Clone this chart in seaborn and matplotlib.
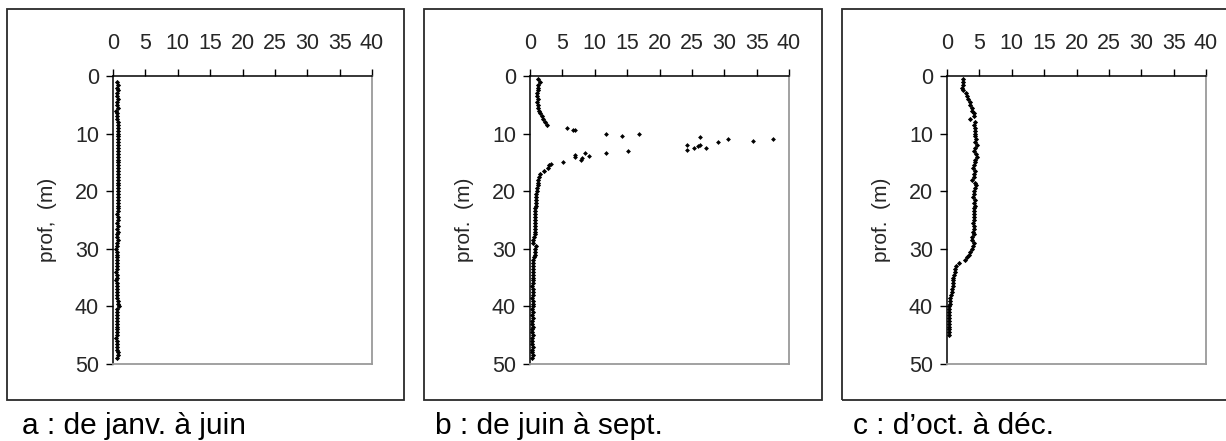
import numpy as np
import pandas as pd
import matplotlib
matplotlib.use("Agg")
import matplotlib.pyplot as plt
import seaborn as sns
from matplotlib.patches import Rectangle

nan = np.nan

# Shared depth grid (m), 0.5 .. 50.0
depth = [
    0.5, 1.0, 1.5, 2.0, 2.5, 3.0, 3.5, 4.0, 4.5, 5.0,
    5.5, 6.0, 6.5, 7.0, 7.5, 8.0, 8.5, 9.0, 9.5, 10.0,
    10.5, 11.0, 11.5, 12.0, 12.5, 13.0, 13.5, 14.0, 14.5, 15.0,
    15.5, 16.0, 16.5, 17.0, 17.5, 18.0, 18.5, 19.0, 19.5, 20.0,
    20.5, 21.0, 21.5, 22.0, 22.5, 23.0, 23.5, 24.0, 24.5, 25.0,
    25.5, 26.0, 26.5, 27.0, 27.5, 28.0, 28.5, 29.0, 29.5, 30.0,
    30.5, 31.0, 31.5, 32.0, 32.5, 33.0, 33.5, 34.0, 34.5, 35.0,
    35.5, 36.0, 36.5, 37.0, 37.5, 38.0, 38.5, 39.0, 39.5, 40.0,
    40.5, 41.0, 41.5, 42.0, 42.5, 43.0, 43.5, 44.0, 44.5, 45.0,
    45.5, 46.0, 46.5, 47.0, 47.5, 48.0, 48.5, 49.0, 49.5, 50.0,
]

# a : de janv. à juin
val_a = [
    nan, 0.6, 0.7, 0.6, 0.7, 0.6, 0.6, 0.7, 0.6, 0.6,
    0.7, 0.5, 0.6, 0.6, 0.6, 0.7, 0.8, 0.7, 0.7, 0.7,
    0.7, 0.7, 0.7, 0.7, 0.8, 0.7, 0.8, 0.8, 0.8, 0.8,
    0.7, 0.8, 0.8, 0.8, 0.8, 0.7, 0.8, 0.8, 0.7, 0.8,
    0.7, 0.7, 0.7, 0.7, 0.7, 0.7, 0.7, 0.6, 0.7, 0.7,
    0.6, 0.7, 0.6, 0.7, 0.6, 0.6, 0.7, 0.6, 0.6, 0.5,
    0.6, 0.6, 0.6, 0.6, 0.6, 0.6, 0.6, 0.5, 0.6, 0.6,
    0.5, 0.6, 0.6, 0.6, 0.6, 0.6, 0.6, 0.7, 0.8, 0.9,
    0.6, 0.6, 0.6, 0.6, 0.6, 0.6, 0.6, 0.6, 0.6, 0.6,
    0.5, 0.6, 0.6, 0.6, 0.6, 0.7, 0.7, 0.6, nan, nan,
]

# b : de juin à sept. (continuous profile)
val_b = [
    1.3, 1.5, 1.3, 1.2, 1.2, 1.1, 1.1, 1.2, 1.1, 1.2,
    1.2, 1.4, 1.6, 1.9, 2.0, 2.3, 2.6, nan, nan, nan,
    nan, nan, nan, nan, nan, nan, nan, nan, nan, nan,
    3.0, 2.8, 2.2, 1.6, 1.4, 1.3, 1.2, 1.3, 1.1, 1.1,
    1.0, 1.0, 1.0, 0.9, 0.9, 0.8, 0.8, 0.8, 0.8, 0.8,
    0.8, 0.8, 0.8, 0.8, 0.8, 0.6, 0.5, 0.5, 0.9, 0.8,
    0.8, 0.7, 0.6, 0.5, 0.5, 0.4, 0.4, 0.4, 0.4, 0.4,
    0.4, 0.4, 0.3, 0.4, 0.4, 0.4, 0.3, 0.4, 0.4, 0.4,
    0.3, 0.4, 0.3, 0.4, 0.3, 0.3, 0.4, 0.3, 0.3, 0.4,
    0.3, 0.3, 0.3, 0.4, 0.3, 0.3, 0.4, 0.3, nan, nan,
]
# b : scattered points of the bloom layer
peak_val = [5.7, 6.7, 7.0, 11.8, 14.2, 16.9, 24.2, 24.2, 25.4, 26.0, 26.3, 26.3,
            27.2, 29.1, 30.6, 34.5, 37.5, 11.8, 15.1, 6.9, 6.9, 8.5, 7.9, 8.1,
            9.1, 5.1, 3.3]
peak_depth = [9.1, 9.4, 9.4, 10.0, 10.35, 10.0, 11.9, 12.85, 12.5, 12.2, 12.0, 10.6,
              12.5, 11.5, 10.9, 11.2, 10.9, 13.4, 13.1, 13.8, 14.1, 13.4, 14.5, 14.2,
              13.9, 14.9, 15.3]

# c : d'oct. à déc.
val_c = [
    2.4, 2.5, 2.4, 2.3, 2.4, 2.9, 3.1, 3.3, 3.5, 3.6,
    3.8, 3.9, 4.1, 4.2, 3.6, 4.3, 4.2, 4.3, 4.4, 4.3,
    4.3, 4.5, 4.4, 4.6, 4.3, 4.2, 4.5, 4.6, 4.4, 4.3,
    4.2, 4.0, 4.3, 4.1, 4.2, 3.8, 4.4, 4.5, 4.3, 4.2,
    4.2, 4.0, 4.3, 4.1, 4.3, 4.2, 4.1, 4.2, 4.1, 4.2,
    4.0, 4.1, 4.1, 4.0, 4.1, 3.9, 3.8, 4.2, 4.0, 3.9,
    3.6, 3.4, 3.1, 2.8, 1.8, 1.4, 1.3, 1.2, 1.1, 1.0,
    0.95, 0.9, 0.85, 0.8, 0.7, 0.6, 0.5, 0.4, 0.4, 0.35,
    0.3, 0.3, 0.3, 0.3, 0.3, 0.3, 0.3, 0.3, 0.3, 0.3,
    nan, nan, nan, nan, nan, nan, nan, nan, nan, nan,
]

captions = ["a : de janv. à juin", "b : de juin à sept.", "c : d\u2019oct. à déc."]
ylabels = ["prof,  (m)", "prof.  (m)", "prof.  (m)"]
xticks = [0, 5, 10, 15, 20, 25, 30, 35, 40]
yticks = [0, 10, 20, 30, 40, 50]

sns.set_theme(style="white")
plt.rcParams["font.family"] = ["Liberation Sans", "DejaVu Sans"]

W, H = 1226, 441
fig = plt.figure(figsize=(W / 100, H / 100), dpi=100)

def fx(px):
    return px / W

def fy(py):
    return 1 - py / H

ax_left = [113, 530, 947]
ax_w = 259
ax_top, ax_bot = 76, 364
frames = [(7, 404), (424, 822), (842, 1240)]
cap_x = [22, 435, 853]

series = [val_a, val_b, val_c]

for i in range(3):
    # frame around each panel
    fl, fr = frames[i]
    fig.patches.append(Rectangle((fx(fl), fy(400)), fx(fr - fl), (400 - 9) / H,
                                 transform=fig.transFigure, fill=False,
                                 edgecolor="#2a2a2a", linewidth=1.3, zorder=0))
    ax = fig.add_axes([fx(ax_left[i]), fy(ax_bot), ax_w / W, (ax_bot - ax_top) / H])
    df = pd.DataFrame({"val": series[i], "depth": depth}).dropna()
    sns.scatterplot(data=df, x="val", y="depth", ax=ax, color="black",
                    marker="D", s=7, linewidth=0, legend=False)
    if i == 1:
        dp = pd.DataFrame({"val": peak_val, "depth": peak_depth})
        sns.scatterplot(data=dp, x="val", y="depth", ax=ax, color="black",
                        marker="D", s=6, linewidth=0, legend=False)
    ax.set_xlim(0, 40)
    ax.set_ylim(50, 0)
    ax.set_xticks(xticks)
    ax.set_yticks(yticks)
    ax.xaxis.tick_top()
    ax.xaxis.set_label_position("top")
    ax.set_xlabel("")
    ax.set_ylabel(ylabels[i], fontsize=15)
    ax.yaxis.set_label_coords(-0.216, 0.5)
    ax.tick_params(axis="x", which="both", top=True, bottom=False, direction="out",
                   length=5, width=1, color="black", pad=10.5, labelsize=15.5)
    ax.tick_params(axis="y", which="both", left=True, direction="out",
                   length=5, width=1, color="black", pad=5, labelsize=15.5)
    for s in ["top", "left"]:
        ax.spines[s].set_color("black")
        ax.spines[s].set_linewidth(1.1)
    for s in ["right", "bottom"]:
        ax.spines[s].set_color("#9a9a9a")
        ax.spines[s].set_linewidth(1.3)
    ax.set_facecolor("white")
    fig.text(fx(cap_x[i]), fy(433.5), captions[i], fontsize=21.5,
             ha="left", va="baseline", color="black")

fig.savefig("out.png", dpi=100, facecolor="white")
